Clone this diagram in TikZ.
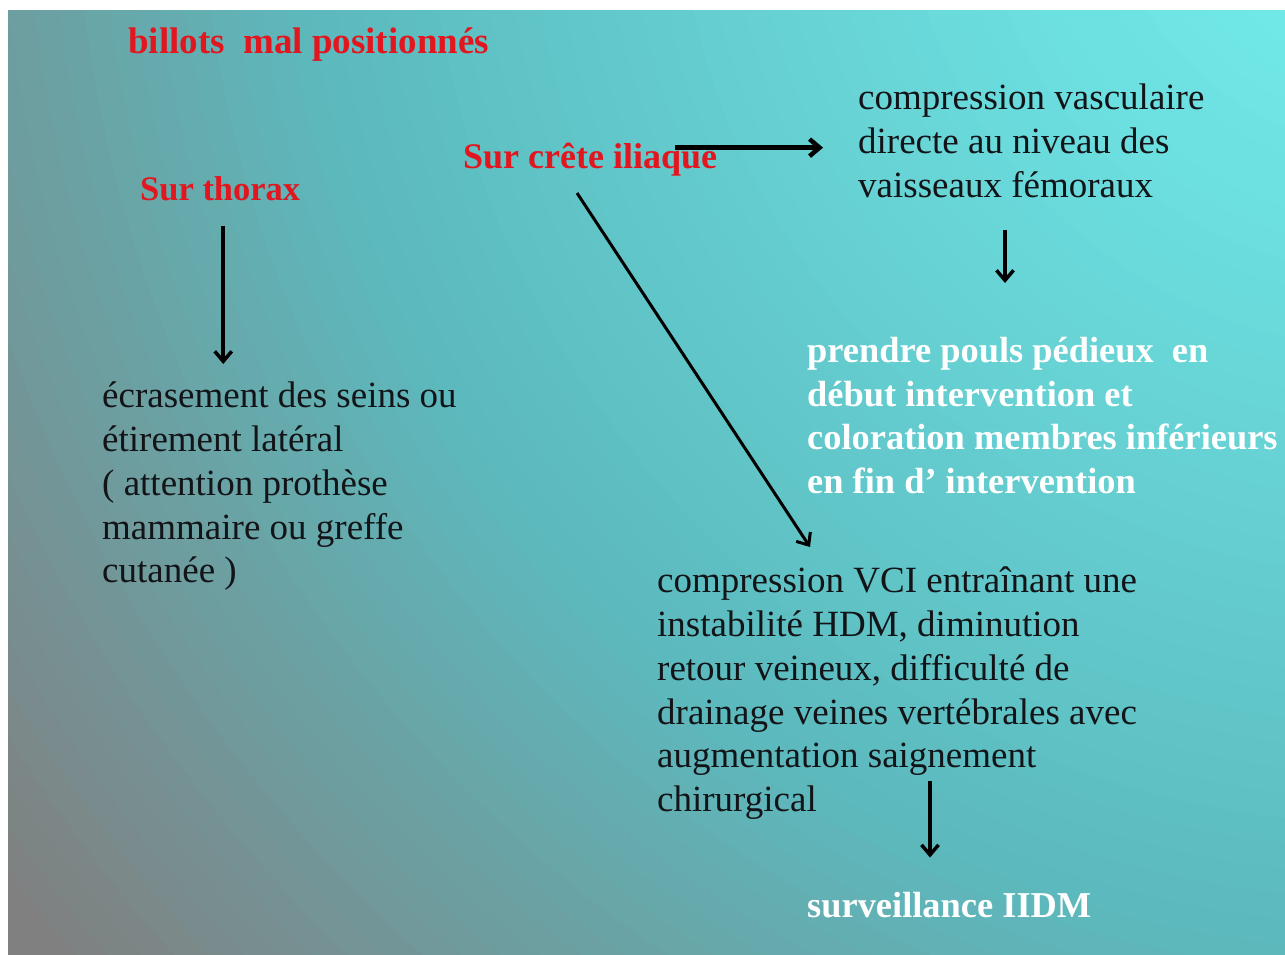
\documentclass[tikz,border=0pt]{standalone}
\usepackage{fontspec}
\setmainfont{Liberation Serif}
\usetikzlibrary{arrows.meta}
\definecolor{titlered}{RGB}{226,22,30}
\definecolor{textblack}{RGB}{18,20,24}
\definecolor{bgout}{RGB}{128,128,128}
\definecolor{bgmid}{RGB}{92,186,190}
\definecolor{bgin}{RGB}{114,236,236}
\begin{document}
\begin{tikzpicture}[x=1pt, y=-1pt,
    redtxt/.style={inner sep=0, text=titlered, font=\fontsize{36}{43}\selectfont\bfseries},
    blacktxt/.style={inner sep=0, align=left, text=textblack, font=\fontsize{37}{43.7}\selectfont},
    whitetxt/.style={inner sep=0, align=left, text=white, font=\fontsize{36.4}{43.7}\selectfont\bfseries},
    arr/.style={-{Straight Barb[length=10pt, width=17pt]}, line width=3.5pt}]
        % Frame and background
        \useasboundingbox (0,0) rectangle (1285,954);
        \fill[white] (0,0) rectangle (1285,954);
        \begin{scope}
            \clip (8,10) rectangle (1285,954);
            \foreach \r in {1850,1825,...,1100} {
                \pgfmathtruncatemacro\p{min(100,max(0,(1750-\r)/6.5))}
                \fill[bgmid!\p!bgout] (1400,-150) circle (\r);
            }
            \foreach \r in {1075,1050,...,150} {
                \pgfmathtruncatemacro\p{min(100,(1100-\r)/9.5)}
                \fill[bgin!\p!bgmid] (1400,-150) circle (\r);
            }
        \end{scope}
        % Titles
        \node[redtxt, font=\fontsize{37}{43}\selectfont\bfseries, anchor=base west] (billots) at (128,53) {billots\ \ mal positionnés};
        \node[redtxt, font=\fontsize{34.5}{43}\selectfont\bfseries, anchor=base west] (thorax) at (140,200) {Sur thorax};
        \node[redtxt, anchor=base west] (iliaque) at (463,168) {Sur crête iliaque};
        % Consequences
        \node[blacktxt, anchor=north west] (vasc) at (858,84) {compression vasculaire\\directe au niveau des\\vaisseaux fémoraux};
        \node[whitetxt, anchor=north west] (pouls) at (807,337) {prendre pouls pédieux\ \ en\\début intervention et\\coloration membres inférieurs\\en fin d’ intervention};
        \node[blacktxt, anchor=north west] (ecr) at (102,382) {écrasement des seins ou\\étirement latéral\\( attention prothèse\\mammaire ou greffe\\cutanée )};
        \node[blacktxt, anchor=north west] (vci) at (657,567) {compression VCI entraînant une\\instabilité HDM, diminution\\retour veineux, difficulté de\\drainage veines vertébrales avec\\augmentation saignement\\chirurgical};
        \node[whitetxt, anchor=base west] (surv) at (807,917) {surveillance IIDM};
        % Arrows
        \draw[arr, shorten <=25pt, shorten >=18pt] ([xshift=3pt]thorax.south) -- ([xshift=3pt]thorax.south |- ecr.north);
        \draw[arr, line width=4.5pt, shorten >=35pt] ([xshift=-42pt, yshift=11.5pt]iliaque.east) coordinate (h1) -- (h1 -| vasc.west);
        \draw[arr, shorten <=32pt, shorten >=54pt] ([xshift=147pt]vasc.south west) -- ([xshift=147pt]vasc.south west |- pouls.north);
        \draw[arr, line width=3pt] ([xshift=114pt, yshift=-25pt]iliaque.base west) -- ([xshift=153pt, yshift=20pt]vci.north west);
        \draw[arr, shorten >=34pt] ([xshift=273pt, yshift=39pt]vci.south west) -- ([xshift=273pt]vci.south west |- surv.north);
\end{tikzpicture}
\end{document}
